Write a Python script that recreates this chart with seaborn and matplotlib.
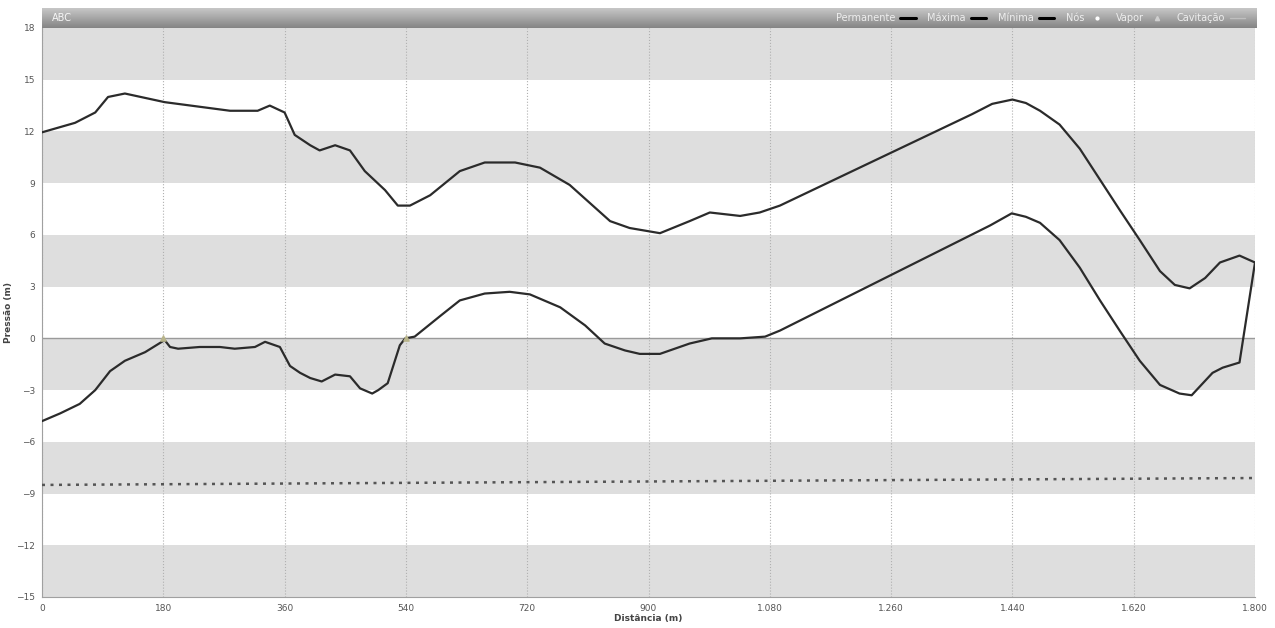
import numpy as np
import pandas as pd
import seaborn as sns
import matplotlib.pyplot as plt
from matplotlib.lines import Line2D
from matplotlib.ticker import MultipleLocator, FuncFormatter

# === Dados ===
dist_max = [0, 49, 79, 98, 123, 182, 279, 320, 338, 360, 375, 398, 412, 435, 457, 479,
            509, 528, 546, 576, 620, 657, 702, 739, 783, 843, 872, 917, 961, 991, 1036,
            1065, 1095, 1380, 1410, 1440, 1460, 1481, 1510, 1540, 1570, 1600, 1629, 1659,
            1681, 1703, 1726, 1748, 1777, 1800]
p_max = [11.95, 12.5, 13.1, 14.0, 14.2, 13.7, 13.2, 13.2, 13.5, 13.1, 11.8, 11.2, 10.9,
         11.2, 10.9, 9.7, 8.6, 7.7, 7.7, 8.3, 9.7, 10.2, 10.2, 9.9, 8.9, 6.8, 6.4, 6.1,
         6.8, 7.3, 7.1, 7.3, 7.7, 13.0, 13.6, 13.85, 13.65, 13.2, 12.4, 11.0, 9.2, 7.4,
         5.7, 3.9, 3.1, 2.9, 3.5, 4.4, 4.8, 4.4]

dist_min = [0, 27, 56, 79, 101, 123, 153, 182, 190, 202, 234, 264, 286, 316, 331, 353,
            368, 383, 398, 415, 435, 457, 472, 490, 499, 513, 531, 539, 553, 591, 620,
            657, 694, 724, 769, 806, 835, 865, 887, 917, 961, 994, 1036, 1073, 1095,
            1407, 1439, 1460, 1481, 1510, 1540, 1570, 1600, 1629, 1659, 1688, 1706, 1737,
            1752, 1777, 1800]
p_min = [-4.8, -4.35, -3.8, -3.0, -1.9, -1.3, -0.8, -0.1, -0.5, -0.6, -0.5, -0.5, -0.6,
         -0.5, -0.2, -0.5, -1.6, -2.0, -2.3, -2.5, -2.1, -2.2, -2.9, -3.2, -3.0, -2.6,
         -0.4, 0.0, 0.1, 1.3, 2.2, 2.6, 2.7, 2.55, 1.8, 0.75, -0.3, -0.7, -0.9, -0.9,
         -0.3, 0.0, 0.0, 0.1, 0.45, 6.55, 7.25, 7.05, 6.7, 5.7, 4.1, 2.2, 0.4, -1.3,
         -2.7, -3.2, -3.3, -2.0, -1.7, -1.4, 4.4]

dist_vapor = [0, 1800]
p_vapor = [-8.5, -8.1]

nos_x = [180, 540]
nos_y = [0.0, 0.05]

legend_labels = ['Permanente', 'Máxima', 'Mínima', 'Nós', 'Vapor', 'Cavitação']

df_max = pd.DataFrame({'dist': dist_max, 'p': p_max})
df_min = pd.DataFrame({'dist': dist_min, 'p': p_min})
df_vap = pd.DataFrame({'dist': dist_vapor, 'p': p_vapor})

# === Visual ===
sns.set_style('white')
plt.rcParams['font.family'] = ['DejaVu Sans']

W, H = 1275, 628
fig = plt.figure(figsize=(W / 100, H / 100), dpi=100)
ax = fig.add_axes([42 / W, 1 - 597 / H, (1255 - 42) / W, (597 - 28) / H])

# faixas cinza alternadas
for y0 in range(-15, 18, 3):
    if ((y0 + 15) // 3) % 2 == 0:
        ax.axhspan(y0, y0 + 3, color='#dedede', lw=0, zorder=0)
ax.axhline(0, color='#9a9a9a', lw=1.0, zorder=1)

ax.set_xlim(0, 1800)
ax.set_ylim(-15, 18)
ax.xaxis.set_major_locator(MultipleLocator(180))
ax.xaxis.set_minor_locator(MultipleLocator(90))
ax.yaxis.set_major_locator(MultipleLocator(3))
ax.yaxis.set_minor_locator(MultipleLocator(1.5))
ax.xaxis.set_major_formatter(FuncFormatter(lambda v, p: f'{v:,.0f}'.replace(',', '.')))
ax.grid(axis='x', which='major', color='#b0b0b0', ls=':', lw=0.8, zorder=1)

sns.lineplot(data=df_max, x='dist', y='p', ax=ax, color='#2b2b2b', lw=1.6, sort=False, zorder=3)
sns.lineplot(data=df_min, x='dist', y='p', ax=ax, color='#2b2b2b', lw=1.6, sort=False, zorder=3)
sns.lineplot(data=df_vap, x='dist', y='p', ax=ax, color='#555555', lw=1.8,
             linestyle=(0, (1.2, 2.2)), sort=False, zorder=3)
ax.scatter(nos_x, nos_y, marker='^', s=14, color='#b8b48a', zorder=4)

for s in ['top', 'right']:
    ax.spines[s].set_visible(False)
for s in ['left', 'bottom']:
    ax.spines[s].set_color('#a0a0a0')
    ax.spines[s].set_linewidth(0.8)
ax.tick_params(which='both', direction='out', length=3, width=0.7, color='#888888',
               labelsize=6.5, labelcolor='#555555', pad=2)
ax.tick_params(which='minor', length=2)
ax.set_xlabel('Distância (m)', fontsize=6.5, fontweight='bold', color='#444444', labelpad=1)
ax.set_ylabel('Pressão (m)', fontsize=6.5, fontweight='bold', color='#444444', labelpad=2)

# barra de titulo com legenda
bar = fig.add_axes([42 / W, 1 - 28 / H, (1257 - 42) / W, 20 / H])
grad = np.linspace(0.78, 0.52, 50).reshape(-1, 1)
bar.imshow(grad, cmap='gray', vmin=0, vmax=1, aspect='auto', extent=[0, 1, 0, 1])
bar.set_xlim(0, 1)
bar.set_ylim(0, 1)
bar.axis('off')
bar.text(0.008, 0.5, 'ABC', color='white', fontsize=7, va='center', ha='left', alpha=0.9)

handles = [
    Line2D([], [], color='black', lw=2.2),
    Line2D([], [], color='black', lw=2.2),
    Line2D([], [], color='black', lw=2.2),
    Line2D([], [], color='white', lw=0, marker='.', markersize=4),
    Line2D([], [], color='#cfcfcf', lw=0, marker='^', markersize=3),
    Line2D([], [], color='#bfbfbf', lw=1.0),
]
bar.legend(handles, legend_labels, ncol=6, loc='center right', frameon=False,
           markerfirst=False, fontsize=7, labelcolor='#eeeeee', handlelength=1.6,
           handletextpad=0.5, columnspacing=1.2, borderaxespad=0.2,
           bbox_to_anchor=(0.995, 0.5))

fig.savefig('out.png', dpi=100)
